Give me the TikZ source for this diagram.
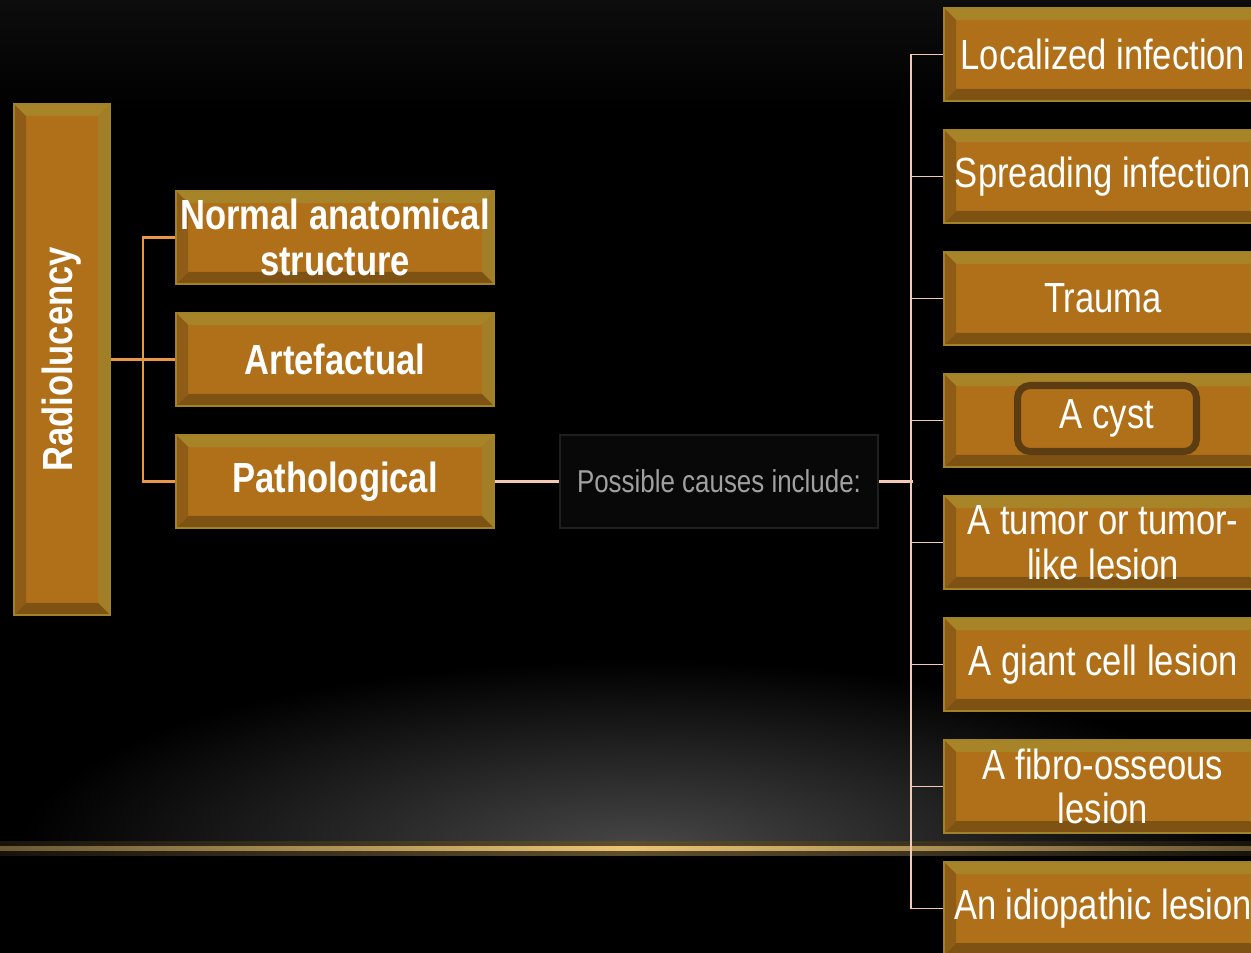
\documentclass[tikz,border=0pt]{standalone}
\usepackage{fontspec}
\setmainfont{Liberation Sans}
\newfontfamily\narrowsf[FakeStretch=0.82]{Liberation Sans}
\usetikzlibrary{calc}
\definecolor{boxfill}{RGB}{176,112,25}
\definecolor{boxedge}{RGB}{160,130,40}
\definecolor{bevlight}{RGB}{168,132,40}
\definecolor{bevright}{RGB}{162,126,38}
\definecolor{bevleft}{RGB}{142,92,22}
\definecolor{bevdark}{RGB}{126,82,18}
\definecolor{cystedge}{RGB}{92,60,18}
\definecolor{stemorange}{RGB}{236,150,72}
\definecolor{leafpink}{RGB}{245,200,180}
\definecolor{goldglow}{RGB}{236,196,116}
\definecolor{causetext}{RGB}{160,160,160}
\tikzset{
  bevelbox/.style={draw=boxedge, line width=1.2pt, fill=boxfill, text=white, align=center,
    minimum width=6.36cm, minimum height=1.86cm, inner sep=0pt,
    font=\narrowsf\fontsize{24}{25.5}\selectfont,
    path picture={
      \path (path picture bounding box.north west) coordinate (nw)
            (path picture bounding box.north east) coordinate (ne)
            (path picture bounding box.south west) coordinate (sw)
            (path picture bounding box.south east) coordinate (se);
      \fill[bevlight] (nw) -- (ne) -- ($(ne)+(-0.24cm,-0.24cm)$) -- ($(nw)+(0.24cm,-0.24cm)$) -- cycle;
      \fill[bevright] (ne) -- (se) -- ($(se)+(-0.24cm,0.24cm)$) -- ($(ne)+(-0.24cm,-0.24cm)$) -- cycle;
      \fill[bevdark] (se) -- (sw) -- ($(sw)+(0.24cm,0.24cm)$) -- ($(se)+(-0.24cm,0.24cm)$) -- cycle;
      \fill[bevleft] (sw) -- (nw) -- ($(nw)+(0.24cm,-0.24cm)$) -- ($(sw)+(0.24cm,0.24cm)$) -- cycle;
    }},
  boldbox/.style={bevelbox, font=\narrowsf\bfseries\fontsize{24}{26}\selectfont},
  causebox/.style={draw=black!88!white, line width=1pt, fill=black!97!white, text=causetext,
    minimum width=6.36cm, minimum height=1.86cm, font=\narrowsf\fontsize{18}{20}\selectfont},
  leftlink/.style={draw=stemorange, line width=1.2pt},
  rightlink/.style={draw=leafpink, line width=1.1pt},
  causelink/.style={draw=leafpink, line width=2pt}
}
\begin{document}
\begin{tikzpicture}[x=0.02cm, y=-0.02cm]
\useasboundingbox (0,0) rectangle (1251,953);
\clip (0,0) rectangle (1251,953);
% background
\fill[black] (0,0) rectangle (1251,953);
\shade[top color=black!95!white, bottom color=black] (0,0) rectangle (1251,110);
\begin{scope}
\clip (0,600) rectangle (1251,847);
\shade[inner color=black!72!white, outer color=black] (640,850) ellipse [x radius=620, y radius=190];
\end{scope}
\shade[left color=goldglow!10!black, right color=goldglow!10!black, middle color=goldglow!40!black] (0,841) rectangle (1251,855);
\shade[left color=goldglow!45!black, right color=goldglow!45!black, middle color=goldglow] (0,846) rectangle (1251,850);
% left part
\node[bevelbox, minimum width=1.92cm, minimum height=10.22cm] (radio) at (62,359.5) {\rotatebox{90}{\bfseries Radiolucency}};
\node[boldbox] (normal) at (335,237.5) {Normal anatomical\\structure};
\node[boldbox] (artef) at (335,359.5) {Artefactual};
\node[boldbox] (patho) at (335,481.5) {Pathological};
\node[causebox] (causes) at (719,481.5) {Possible causes include:};
% causes
\node[bevelbox] (cause1) at (1103,54.5) {Localized infection};
\node[bevelbox] (cause2) at (1103,176.5) {Spreading infection};
\node[bevelbox] (cause3) at (1103,298.5) {Trauma};
\node[bevelbox] (cause4) at (1103,420.5) {};
\node[draw=cystedge, line width=4pt, rounded corners=0.25cm, minimum width=3.58cm, minimum height=1.32cm,
  text=white, font=\narrowsf\fontsize{24}{25.5}\selectfont] (cyst) at (1107,418.5) {A cyst};
\node[bevelbox] (cause5) at (1103,542.5) {A tumor or tumor-\\like lesion};
\node[bevelbox] (cause6) at (1103,664.5) {A giant cell lesion};
\node[bevelbox] (cause7) at (1103,786.5) {A fibro-osseous\\lesion};
\node[bevelbox] (cause8) at (1103,908.5) {An idiopathic lesion};
% links
\draw[leftlink] (radio.east) -- (artef.west);
\draw[leftlink] (normal.west) -- ++(-32,0) |- (patho.west);
\draw[causelink] (patho.east) -- (causes.west);
\draw[causelink] (causes.east) -- ++(34,0);
\draw[rightlink] (cause1.west) -- ++(-32,0) |- (cause8.west);
\draw[rightlink] (cause2.west) -- ++(-32,0);
\draw[rightlink] (cause3.west) -- ++(-32,0);
\draw[rightlink] (cause4.west) -- ++(-32,0);
\draw[rightlink] (cause5.west) -- ++(-32,0);
\draw[rightlink] (cause6.west) -- ++(-32,0);
\draw[rightlink] (cause7.west) -- ++(-32,0);
\end{tikzpicture}
\end{document}
